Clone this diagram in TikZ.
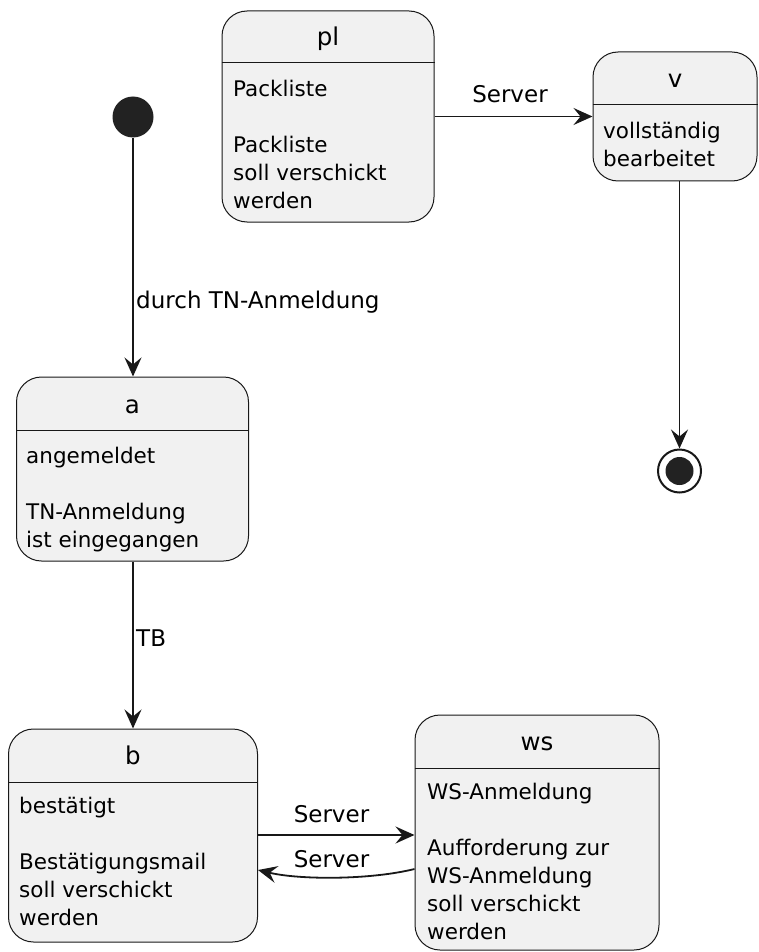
\documentclass[tikz,border=0pt]{standalone}
\usepackage{fontspec}
\setmainfont{DejaVu Sans}
\usetikzlibrary{arrows.meta,positioning}

\definecolor{linecol}{HTML}{181818}
\definecolor{boxfill}{HTML}{F1F1F1}
\definecolor{dotcol}{HTML}{222222}

\tikzset{
    statebox/.style={draw=linecol, fill=boxfill, rounded corners=25pt, line width=1pt, inner sep=0pt},
    statetitle/.style={font=\fontsize{24.5}{29}\selectfont, anchor=base, inner sep=0pt},
    statebody/.style={font=\fontsize{21.5}{28}\selectfont, align=left, anchor=north west, inner sep=0pt},
    trans/.style={draw=linecol, line width=1.8pt, -{Stealth[length=19pt,width=17pt,inset=7pt]}},
    translabel/.style={font=\fontsize{23}{28}\selectfont, anchor=base, inner sep=0pt},
}

\begin{document}
\begin{tikzpicture}[x=1pt, y=-1pt]
    \useasboundingbox (0,0) rectangle (758,952);

    % States
    \node[statebox, minimum width=212pt, minimum height=211pt] (pl) at (328,116.5) {};
    \node[statebox, minimum width=164pt, minimum height=129pt] (v) at (675,116.5) {};
    \node[statebox, minimum width=232pt, minimum height=184pt] (a) at (132.5,469) {};
    \node[statebox, minimum width=249pt, minimum height=213pt] (b) at (133,835.5) {};
    \node[statebox, minimum width=244pt, minimum height=235pt] (ws) at (537,832.5) {};

    % Separators
    \foreach \s/\y in {pl/63, v/105, a/430, b/782, ws/768} {
        \draw[linecol, line width=1pt] (\s.west |- 0,\y) -- (\s.east |- 0,\y);
    }

    % Titles
    \node[statetitle] (pltitle) at (pl.north |- 0,46) {pl};
    \node[statetitle] (vtitle) at (v.north |- 0,88) {v};
    \node[statetitle] (atitle) at (a.north |- 0,413) {a};
    \node[statetitle] (btitle) at (b.north |- 0,764) {b};
    \node[statetitle] (wstitle) at (ws.north |- 0,750) {ws};

    % Bodies
    \node[statebody] (plbody) at (233,80) {Packliste\\[28pt]Packliste\\soll verschickt\\werden};
    \node[statebody] (vbody) at (603,122) {vollständig\\bearbeitet};
    \node[statebody] (abody) at (26,447) {angemeldet\\[28pt]TN-Anmeldung\\ist eingegangen};
    \node[statebody] (bbody) at (19,797) {bestätigt\\[28pt]Bestätigungsmail\\soll verschickt\\werden};
    \node[statebody] (wsbody) at (427,783) {WS-Anmeldung\\[28pt]Aufforderung zur\\WS-Anmeldung\\soll verschickt\\werden};

    % Start and end
    \node[circle, fill=dotcol, minimum size=41pt, inner sep=0pt] (init) at (133,117) {};
    \node[circle, draw=linecol, fill=white, line width=2pt, minimum size=43pt, inner sep=0pt] (fin) at (679.5,471) {};
    \fill[dotcol] (fin) circle (14pt);

    % Transitions
    \draw[trans] (init) -- (init |- a.north);
    \draw[trans] (a.south -| init) -- (init |- b.north);
    \draw[trans] (pl.east) -- (v.west);
    \draw[trans] (fin |- v.south) -- (fin);
    \draw[trans] (b.east |- 0,835) -- (ws.west |- 0,835);
    \draw[trans] (ws.west |- 0,869) .. controls (370,880) and (300,880) .. (b.east |- 0,870);

    % Labels
    \node[translabel, anchor=base west] (lbinit) at (136,308) {durch TN-Anmeldung};
    \node[translabel, anchor=base west] (lbtb) at (136,646) {TB};
    \node[translabel] (lbplv) at (510,103) {Server};
    \node[translabel] (lbbws) at (331.5,822) {Server};
    \node[translabel] (lbwsb) at (331.5,867) {Server};

\end{tikzpicture}
\end{document}
